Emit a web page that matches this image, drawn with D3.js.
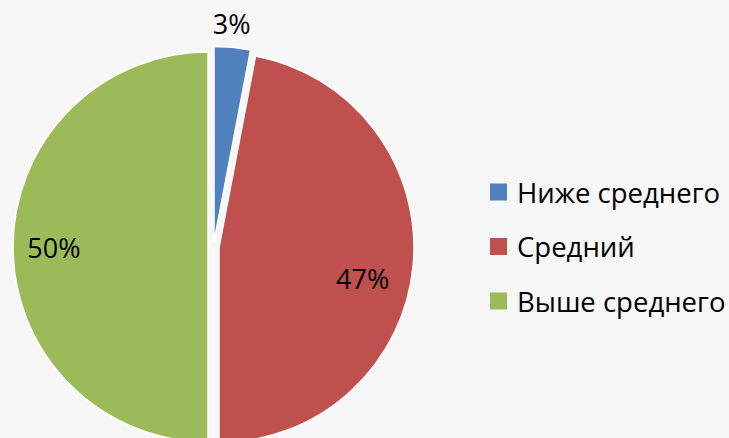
<!DOCTYPE html>
<html><head><meta charset="utf-8">
<script src="https://cdn.jsdelivr.net/npm/d3@7"></script>
<style>html,body{margin:0;padding:0;background:#f7f7f7;}svg{display:block;}</style>
</head><body>
<script>
const categories = ["Ниже среднего", "Средний", "Выше среднего"];
const values = [3, 47, 50];
const labels = ["3%", "47%", "50%"];
const colors = ["#4f81bd", "#c0504d", "#9bbb59"];

const W = 729, H = 438;
const cx = 213.5, cy = 247, R = 195, explode = 5.5;
const font = "'Open Sans', sans-serif";

const svg = d3.select("body").append("svg").attr("width", W).attr("height", H)
  .style("background", "#f7f7f7");

const pie = d3.pie().sort(null).value(d => d)(values);
const arc = d3.arc().innerRadius(0).outerRadius(R);
const color = d3.scaleOrdinal().domain(categories).range(colors);

const g = svg.append("g").attr("transform", `translate(${cx},${cy})`);

function off(d, r) {
  const a = (d.startAngle + d.endAngle) / 2;
  return [Math.sin(a) * r, -Math.cos(a) * r];
}

g.selectAll("path.slice").data(pie).join("path")
  .attr("class", "slice")
  .attr("d", arc)
  .attr("transform", d => { const o = off(d, explode); return `translate(${o[0]},${o[1]})`; })
  .attr("fill", (d, i) => color(categories[i]))
  .attr("stroke", "#ffffff")
  .attr("stroke-width", 1.5);

// data labels
const labelR = [R + 24, R * 0.74, R * 0.79];
const labelDy = [0, 17, 0];
g.selectAll("text.lbl").data(pie).join("text")
  .attr("class", "lbl")
  .attr("x", (d, i) => off(d, explode)[0] + off(d, labelR[i])[0] - (i === 0 ? 3 : 0))
  .attr("y", (d, i) => off(d, explode)[1] + off(d, labelR[i])[1] + labelDy[i])
  .attr("text-anchor", "middle")
  .attr("dominant-baseline", "central")
  .attr("font-family", font)
  .attr("font-size", 27)
  .attr("fill", "#000")
  .text((d, i) => labels[i]);

// legend
const legend = svg.append("g").attr("transform", "translate(490,192)");
const rowH = 54.5;
const items = legend.selectAll("g").data(categories).join("g")
  .attr("transform", (d, i) => `translate(0,${i * rowH})`);
items.append("rect").attr("x", 0).attr("y", -8.5).attr("width", 17).attr("height", 17)
  .attr("fill", d => color(d));
items.append("text").attr("x", 27).attr("y", 0)
  .attr("dominant-baseline", "central")
  .attr("font-family", font)
  .attr("font-size", 27.5)
  .attr("fill", "#000")
  .text(d => d);
</script>
</body></html>
